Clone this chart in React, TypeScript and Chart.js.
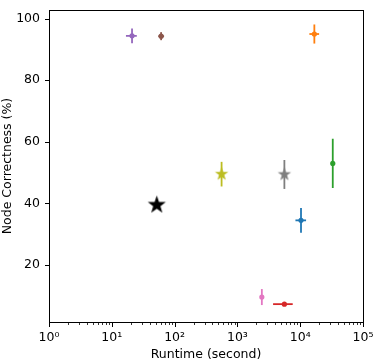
import React, { useEffect, useRef } from 'react';
import { Chart, registerables } from 'chart.js';

Chart.register(...registerables);

// ---- data ----
const methods = ['M1', 'M2', 'M3', 'M4', 'M5', 'M6', 'M7', 'M8', 'M9', 'M10'];
const runtimes = [10300, 16800, 33000, 5600, 21, 61, 2450, 5600, 560, 52];
const correctness = [34.5, 95.0, 53.0, 7.3, 94.4, 94.3, 9.6, 49.4, 49.5, 39.5];
const runtimeErrMinus = [1900, 2800, 0, 1900, 4.2, 6, 0, 0, 0, 0];
const runtimeErrPlus = [2100, 3200, 0, 2000, 4, 7, 0, 0, 0, 0];
const correctnessErr = [4.0, 3.1, 8.0, 0.5, 2.4, 1.3, 2.6, 4.7, 4.0, 0];
const colors = ['#1f77b4', '#ff7f0e', '#2ca02c', '#d62728', '#9467bd', '#8c564b', '#e377c2', '#7f7f7f', '#bcbd22', '#000000'];
const markers = ['dot', 'dot', 'dot', 'dot', 'dot', 'dot', 'dot', 'star', 'star', 'bigstar'];

const xTickValues = [1, 10, 100, 1000, 10000, 100000];
const xTickLabels = ['10⁰', '10¹', '10²', '10³', '10⁴', '10⁵'];
const yTickValues = [20, 40, 60, 80, 100];
const yMin = 1.5;
const yMax = 102.8;
const xTitle = 'Runtime (second)';
const yTitle = 'Node Correctness (%)';

const FONT = 'DejaVu Sans';
const FS = 12.5;

function makeStar(r: number, color: string): HTMLCanvasElement {
  const c = document.createElement('canvas');
  const s = Math.ceil(r * 2 + 2);
  c.width = s;
  c.height = s;
  const ctx = c.getContext('2d')!;
  ctx.beginPath();
  for (let i = 0; i < 10; i++) {
    const rad = i % 2 === 0 ? r : r * 0.4;
    const a = -Math.PI / 2 + (i * Math.PI) / 5;
    ctx.lineTo(s / 2 + rad * Math.cos(a), s / 2 + rad * Math.sin(a));
  }
  ctx.closePath();
  ctx.fillStyle = color;
  ctx.fill();
  return c;
}

const errorBarPlugin = {
  id: 'errorBars',
  beforeDatasetsDraw(chart: any) {
    const { ctx, scales } = chart;
    const xs = scales.x;
    const ys = scales.y;
    ctx.save();
    ctx.lineWidth = 1.8;
    for (let i = 0; i < methods.length; i++) {
      ctx.strokeStyle = colors[i];
      const px = xs.getPixelForValue(runtimes[i]);
      const py = ys.getPixelForValue(correctness[i]);
      if (runtimeErrMinus[i] > 0 || runtimeErrPlus[i] > 0) {
        ctx.beginPath();
        ctx.moveTo(xs.getPixelForValue(runtimes[i] - runtimeErrMinus[i]), py);
        ctx.lineTo(xs.getPixelForValue(runtimes[i] + runtimeErrPlus[i]), py);
        ctx.stroke();
      }
      if (correctnessErr[i] > 0) {
        ctx.beginPath();
        ctx.moveTo(px, ys.getPixelForValue(correctness[i] - correctnessErr[i]));
        ctx.lineTo(px, ys.getPixelForValue(correctness[i] + correctnessErr[i]));
        ctx.stroke();
      }
    }
    ctx.restore();
  },
};

const framePlugin = {
  id: 'frameTicks',
  afterDraw(chart: any) {
    const { ctx, chartArea, scales } = chart;
    const { left, right, top, bottom } = chartArea;
    ctx.save();
    ctx.strokeStyle = '#000';
    ctx.lineWidth = 1;
    ctx.strokeRect(Math.round(left) + 0.5, Math.round(top) + 0.5, Math.round(right - left), Math.round(bottom - top));
    const bx = Math.round(bottom) + 0.5;
    for (const v of xTickValues) {
      const p = Math.round(scales.x.getPixelForValue(v)) + 0.5;
      ctx.beginPath();
      ctx.moveTo(p, bx);
      ctx.lineTo(p, bx + 4.5);
      ctx.stroke();
    }
    ctx.lineWidth = 0.8;
    for (let d = 0; d < xTickValues.length - 1; d++) {
      for (let k = 2; k <= 9; k++) {
        const p = Math.round(scales.x.getPixelForValue(k * xTickValues[d])) + 0.5;
        ctx.beginPath();
        ctx.moveTo(p, bx);
        ctx.lineTo(p, bx + 2.5);
        ctx.stroke();
      }
    }
    ctx.lineWidth = 1;
    const lx = Math.round(left) + 0.5;
    for (const v of yTickValues) {
      const p = Math.round(scales.y.getPixelForValue(v)) + 0.5;
      ctx.beginPath();
      ctx.moveTo(lx, p);
      ctx.lineTo(lx - 4.5, p);
      ctx.stroke();
    }
    ctx.restore();
  },
};

export default function App() {
  const ref = useRef<HTMLCanvasElement>(null);
  useEffect(() => {
    if (!ref.current) return;
    const smallStar = (c: string) => makeStar(7, c);
    const bigStar = (c: string) => makeStar(9.5, c);
    const datasets = methods.map((m, i) => ({
      label: m,
      data: [{ x: runtimes[i], y: correctness[i] }],
      backgroundColor: colors[i],
      borderColor: colors[i],
      borderWidth: 0,
      pointRadius: 2.6,
      pointStyle: markers[i] === 'dot' ? 'circle' : markers[i] === 'star' ? smallStar(colors[i]) : bigStar(colors[i]),
    }));
    const chart = new Chart(ref.current, {
      type: 'scatter',
      data: { datasets: datasets as any },
      plugins: [errorBarPlugin, framePlugin],
      options: {
        animation: false,
        responsive: false,
        devicePixelRatio: 1,
        layout: { padding: { top: 10, right: 10, left: 0, bottom: 0 } },
        plugins: { legend: { display: false }, tooltip: { enabled: false } },
        scales: {
          x: {
            type: 'logarithmic',
            min: 1,
            max: 100000,
            afterBuildTicks: (s: any) => {
              s.ticks = xTickValues.map((v) => ({ value: v, major: true }));
            },
            afterFit: (s: any) => {
              s.height = 39;
              s.paddingLeft = 0;
              s.paddingRight = 0;
            },
            ticks: {
              autoSkip: false,
              maxRotation: 0,
              padding: 8.5,
              color: '#000',
              font: { family: FONT, size: FS },
              callback: (v: any) => {
                const idx = xTickValues.indexOf(Number(v));
                return idx >= 0 ? xTickLabels[idx] : '';
              },
            },
            grid: { display: false, drawTicks: false },
            border: { display: false },
            title: {
              display: true,
              text: xTitle,
              color: '#000',
              font: { family: FONT, size: FS },
              padding: { top: 0, bottom: -1 },
            },
          },
          y: {
            min: yMin,
            max: yMax,
            afterBuildTicks: (s: any) => {
              s.ticks = yTickValues.map((v) => ({ value: v }));
            },
            afterFit: (s: any) => {
              s.width = 49;
              s.paddingTop = 0;
              s.paddingBottom = 0;
            },
            ticks: {
              padding: 9,
              color: '#000',
              font: { family: FONT, size: FS },
              callback: (v: any) => String(v),
            },
            grid: { display: false, drawTicks: false },
            border: { display: false },
            title: {
              display: true,
              text: yTitle,
              color: '#000',
              font: { family: FONT, size: FS },
              padding: { top: 0.5, bottom: 0 },
            },
          },
        },
      },
    });
    return () => chart.destroy();
  }, []);
  return (
    <div style={{ position: 'fixed', left: 0, top: 0, width: 373, height: 361, background: '#fff' }}>
      <canvas ref={ref} width={373} height={361} style={{ display: 'block', width: 373, height: 361 }} />
    </div>
  );
}
